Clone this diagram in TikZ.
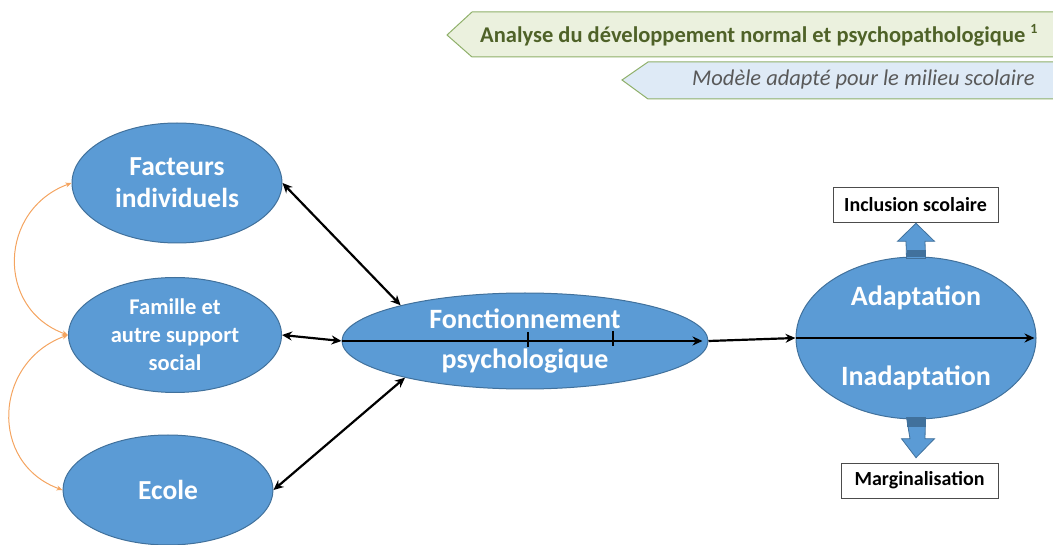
\documentclass[tikz,border=0pt]{standalone}
\usepackage{fontspec}
\setmainfont{Carlito}
\usetikzlibrary{shapes.geometric,calc,arrows.meta}
\definecolor{ellfill}{HTML}{5B9BD5}
\definecolor{elldraw}{HTML}{41719C}
\definecolor{orangeln}{HTML}{F4A460}
\definecolor{greenfill}{HTML}{EBF1DE}
\definecolor{greendraw}{HTML}{8FB06A}
\definecolor{greentext}{HTML}{4F6228}
\definecolor{bluefill}{HTML}{DEEAF6}
\definecolor{graytext}{HTML}{595959}
\begin{document}
\begin{tikzpicture}[x=1pt,y=-1pt,
  ell/.style={ellipse,fill=ellfill,draw=elldraw,line width=1pt,text=white,align=center,inner sep=0pt,font=\bfseries},
  outbox/.style={draw=black!70,fill=white,line width=0.6pt,font=\bfseries\fontsize{20}{22}\selectfont,inner sep=0pt},
  blk/.style={-{Stealth[length=10pt,width=9pt]},line width=2.2pt,black},
  blkd/.style={{Stealth[length=10pt,width=9pt]}-{Stealth[length=10pt,width=9pt]},line width=2.2pt,black},
  orng/.style={{Stealth[length=6pt,width=5pt]}-{Stealth[length=6pt,width=5pt]},line width=1pt,orangeln},
  barrow/.style={fill=ellfill,draw=elldraw,line width=0.8pt},
  banner/.style={line width=1pt}
]
\useasboundingbox (0,0) rectangle (1053,545);

% banners
\draw[banner,fill=greenfill,draw=greendraw] (1060,12) -- (472,12) -- (447,35) -- (472,57) -- (1060,57);
\node[anchor=west,text=greentext,font=\bfseries\fontsize{22.5}{24}\selectfont,inner sep=0pt] (bt1) at (480,35) {Analyse du développement normal et psychopathologique \raisebox{0.4em}{\fontsize{14}{15}\selectfont 1}};
\draw[banner,fill=bluefill,draw=greendraw] (1060,62) -- (648,62) -- (622,80) -- (648,99) -- (1060,99);
\node[anchor=west,text=graytext,font=\itshape\fontsize{22.5}{24}\selectfont,inner sep=0pt] (bt2) at (692,80) {Modèle adapté pour le milieu scolaire};

% ellipses
\node[ell,minimum width=210pt,minimum height=120pt,font=\bfseries\fontsize{27.5}{32}\selectfont] (fi) at (177,183) {Facteurs\\individuels};
\node[ell,minimum width=213pt,minimum height=115pt,font=\bfseries\fontsize{22.5}{28}\selectfont] (fam) at (175,335) {Famille et\\autre support\\social};
\node[ell,minimum width=210pt,minimum height=110pt,font=\bfseries\fontsize{27.5}{30}\selectfont] (ec) at (168,490) {Ecole};
\node[ell,minimum width=366pt,minimum height=96pt,font=\bfseries\fontsize{28}{40}\selectfont] (fp) at (525,341) {\raisebox{4pt}{Fonctionnement}\\\raisebox{4pt}{psychologique}};
\node[ell,minimum width=240pt,minimum height=162pt,font=\bfseries\fontsize{28}{80}\selectfont] (ad) at (916,338) {Adaptation\\Inadaptation};

% output boxes
\node[outbox,minimum width=165pt,minimum height=35pt] (inc) at (915.5,204.5) {Inclusion scolaire};
\node[outbox,minimum width=157pt,minimum height=35pt] (mar) at (919.5,480.5) {Marginalisation};

% block arrows
\draw[barrow] ($(ad.north)+(-9.5,2)$) -- ($(inc.south)+(-9.5,19)$) -- ($(inc.south)+(-18,19)$) -- ($(inc.south)+(0.5,1)$) -- ($(inc.south)+(19,19)$) -- ($(inc.south)+(9.5,19)$) -- ($(ad.north)+(9.5,2)$) -- cycle;
\fill[elldraw] ($(ad.north)+(-9.5,-6)$) rectangle ($(ad.north)+(9.5,1)$);
\draw[barrow] ($(ad.south)+(-9.5,-2)$) -- ($(mar.north)+(-9.5,-24)$) -- ($(mar.north)+(-18,-24)$) -- ($(mar.north)+(-3.5,-5)$) -- ($(mar.north)+(15,-24)$) -- ($(mar.north)+(5.5,-24)$) -- ($(ad.south)+(9.5,-2)$) -- cycle;
\fill[elldraw] ($(ad.south)+(-9.5,-1)$) rectangle ($(ad.south)+(9.5,8)$);

% orange curves
\draw[orng] (fam.west) to[out=160,in=200,looseness=1.3] (fi.west);
\draw[orng] (fam.west) to[out=200,in=160,looseness=1.3] (ec.west);

% black connectors
\draw[blkd] (fi.east) -- (fp.164);
\draw[blkd] (ec.east) -- (fp.197);
\draw[blkd] (fam.east) -- (fp.west);
\coordinate (fpend) at ($(fp.east)+(-6,0)$);
\draw[blk] (fp.west) -- (fpend);
\draw[blk] (fp.east) -- (ad.west);
\draw[blk] (ad.west) -- ($(ad.east)+(-2,0)$);
\coordinate (t1a) at (528,332); \coordinate (t1b) at (528,347);
\coordinate (t2a) at (613,331); \coordinate (t2b) at (613,346);
\draw[line width=2.2pt] (t1a) -- (t1b);
\draw[line width=2.2pt] (t2a) -- (t2b);
\end{tikzpicture}
\end{document}
